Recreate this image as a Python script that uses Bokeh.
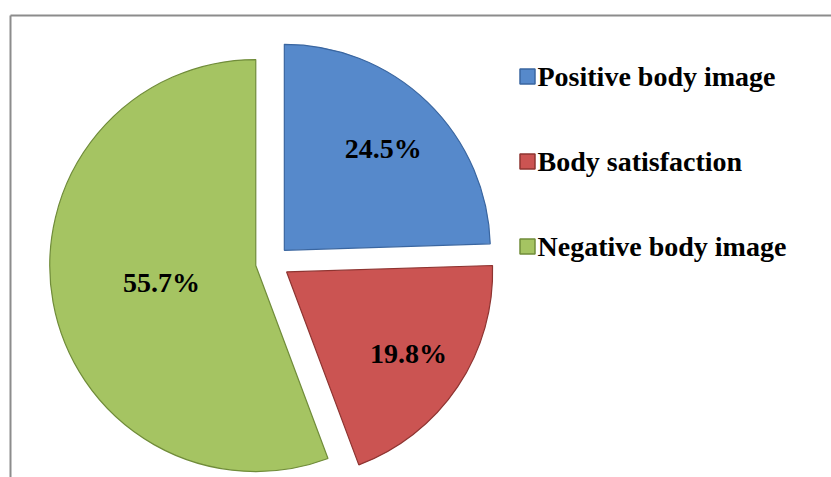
import numpy as np
from bokeh.plotting import figure
from bokeh.models import Range1d, ColumnDataSource
from bokeh.core.properties import value
from bokeh.embed import file_html
from bokeh.resources import INLINE

categories = ["Positive body image", "Body satisfaction", "Negative body image"]
percents = [24.5, 19.8, 55.7]
labels = ["24.5%", "19.8%", "55.7%"]
colors = ["#5689CB", "#CB5452", "#A5C462"]
edge_colors = ["#3A66A0", "#8E3431", "#708C3A"]

W, H = 831, 477
p = figure(width=W, height=H, output_backend="svg", toolbar_location=None,
           x_range=Range1d(0, W), y_range=Range1d(0, H), min_border=0)
p.axis.visible = False
p.grid.visible = False
p.outline_line_color = None
p.background_fill_color = "white"
p.border_fill_color = "white"

# frame lines (top and left)
p.segment(x0=[10, 10], y0=[H - 15, H - 15], x1=[W, 10], y1=[H - 15, 0],
          line_color="#8C8C8C", line_width=2)

cx, cy = 272, H - 262
r = 206
explode = 17

fr = np.array(percents) / sum(percents)
ends = np.cumsum(fr) * 2 * np.pi
starts = ends - fr * 2 * np.pi
# clockwise from 12 o'clock -> math angles
start_math = np.pi / 2 - starts
end_math = np.pi / 2 - ends
mid = (start_math + end_math) / 2
half = fr * np.pi
xs = cx + explode * np.cos(mid)
ys = cy + explode * np.sin(mid)

src = ColumnDataSource(dict(x=xs, y=ys, s=start_math, e=end_math,
                            c=colors, ec=edge_colors))
p.wedge(x="x", y="y", radius=r, start_angle="s", end_angle="e",
        direction="clock", fill_color="c", line_color="ec", line_width=1.2,
        source=src)

ld = r * (0.094 + 0.66 * np.sin(half) / half)
lx = xs + ld * np.cos(mid)
ly = ys + ld * np.sin(mid)
p.text(x=lx, y=ly, text=labels, text_align="center", text_baseline="middle",
       text_font=value("Liberation Serif"), text_font_style="bold",
       text_font_size="28px", text_color="black")

# legend
leg_y = [H - 76, H - 161, H - 246]
p.scatter(x=[527] * 3, y=leg_y, marker="square", size=15,
          fill_color=colors, line_color=edge_colors, line_width=1.5)
p.text(x=[537] * 3, y=leg_y, text=categories, text_align="left",
       text_baseline="middle", text_font=value("Liberation Serif"),
       text_font_style="bold", text_font_size="28px", text_color="black")

open("out.html", "w").write(file_html(p, INLINE))
